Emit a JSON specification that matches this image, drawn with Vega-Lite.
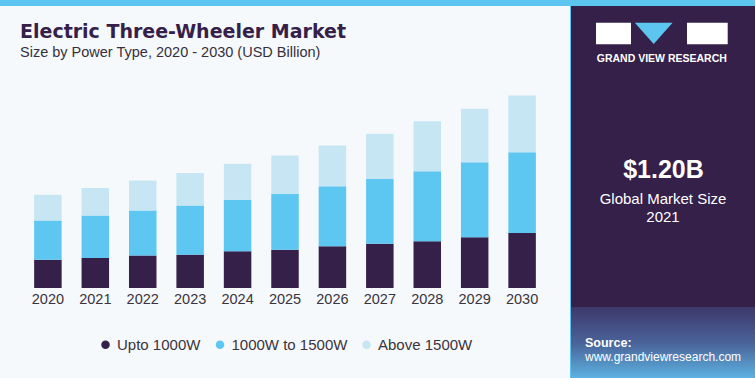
{
  "$schema": "https://vega.github.io/schema/vega-lite/v6.json",
  "background": "#5CC6F1",
  "padding": {"top": 5, "left": 0, "right": 0, "bottom": 0},
  "spacing": 0,
  "config": {"view": {"stroke": null}, "concat": {"spacing": 0}},
  "hconcat": [
    {
      "width": 570,
      "height": 373,
      "view": {"fill": "#F6F9FB", "stroke": null},
      "title": {
        "text": "Electric Three-Wheeler Market",
        "subtitle": "Size by Power Type, 2020 - 2030 (USD Billion)",
        "anchor": "start",
        "frame": "group",
        "orient": "top",
        "offset": -53,
        "dx": 20,
        "font": "DejaVu Sans",
        "fontSize": 19,
        "fontWeight": "bold",
        "color": "#35204A",
        "subtitleFont": "Liberation Sans",
        "subtitleFontSize": 14.5,
        "subtitleColor": "#35303C",
        "subtitlePadding": 4
      },
      "data": {
        "values": [
          {"year": "2020", "type": "Upto 1000W", "rank": 1, "value": 0.34},
          {"year": "2020", "type": "1000W to 1500W", "rank": 2, "value": 0.47},
          {"year": "2020", "type": "Above 1500W", "rank": 3, "value": 0.31},
          {"year": "2021", "type": "Upto 1000W", "rank": 1, "value": 0.36},
          {"year": "2021", "type": "1000W to 1500W", "rank": 2, "value": 0.51},
          {"year": "2021", "type": "Above 1500W", "rank": 3, "value": 0.33},
          {"year": "2022", "type": "Upto 1000W", "rank": 1, "value": 0.39},
          {"year": "2022", "type": "1000W to 1500W", "rank": 2, "value": 0.54},
          {"year": "2022", "type": "Above 1500W", "rank": 3, "value": 0.36},
          {"year": "2023", "type": "Upto 1000W", "rank": 1, "value": 0.40},
          {"year": "2023", "type": "1000W to 1500W", "rank": 2, "value": 0.59},
          {"year": "2023", "type": "Above 1500W", "rank": 3, "value": 0.39},
          {"year": "2024", "type": "Upto 1000W", "rank": 1, "value": 0.44},
          {"year": "2024", "type": "1000W to 1500W", "rank": 2, "value": 0.62},
          {"year": "2024", "type": "Above 1500W", "rank": 3, "value": 0.43},
          {"year": "2025", "type": "Upto 1000W", "rank": 1, "value": 0.46},
          {"year": "2025", "type": "1000W to 1500W", "rank": 2, "value": 0.67},
          {"year": "2025", "type": "Above 1500W", "rank": 3, "value": 0.46},
          {"year": "2026", "type": "Upto 1000W", "rank": 1, "value": 0.50},
          {"year": "2026", "type": "1000W to 1500W", "rank": 2, "value": 0.72},
          {"year": "2026", "type": "Above 1500W", "rank": 3, "value": 0.49},
          {"year": "2027", "type": "Upto 1000W", "rank": 1, "value": 0.53},
          {"year": "2027", "type": "1000W to 1500W", "rank": 2, "value": 0.78},
          {"year": "2027", "type": "Above 1500W", "rank": 3, "value": 0.54},
          {"year": "2028", "type": "Upto 1000W", "rank": 1, "value": 0.56},
          {"year": "2028", "type": "1000W to 1500W", "rank": 2, "value": 0.84},
          {"year": "2028", "type": "Above 1500W", "rank": 3, "value": 0.60},
          {"year": "2029", "type": "Upto 1000W", "rank": 1, "value": 0.61},
          {"year": "2029", "type": "1000W to 1500W", "rank": 2, "value": 0.90},
          {"year": "2029", "type": "Above 1500W", "rank": 3, "value": 0.64},
          {"year": "2030", "type": "Upto 1000W", "rank": 1, "value": 0.66},
          {"year": "2030", "type": "1000W to 1500W", "rank": 2, "value": 0.97},
          {"year": "2030", "type": "Above 1500W", "rank": 3, "value": 0.68}
        ]
      },
      "mark": {"type": "bar"},
      "encoding": {
        "x": {
          "field": "year",
          "type": "ordinal",
          "scale": {"paddingInner": 0.42, "paddingOuter": 0.72},
          "axis": {
            "title": null,
            "domain": false,
            "ticks": false,
            "labelAngle": 0,
            "labelFontSize": 14.5,
            "labelFont": "Liberation Sans",
            "labelColor": "#3A3340",
            "labelPadding": 4,
            "offset": -91
          }
        },
        "y": {
          "field": "value",
          "type": "quantitative",
          "stack": "zero",
          "scale": {"domain": [0, 3.384], "range": [282, 0], "nice": false},
          "axis": null
        },
        "order": {"field": "rank", "type": "quantitative", "sort": "ascending"},
        "color": {
          "field": "type",
          "type": "nominal",
          "scale": {
            "domain": ["Upto 1000W", "1000W to 1500W", "Above 1500W"],
            "range": ["#35204A", "#5DC6F1", "#C6E6F4"]
          },
          "legend": {
            "title": null,
            "orient": "none",
            "legendX": 98,
            "legendY": 331,
            "direction": "horizontal",
            "symbolType": "circle",
            "symbolSize": 72,
            "symbolStrokeWidth": 0,
            "labelFontSize": 15,
            "labelFont": "Liberation Sans",
            "labelColor": "#3A3340",
            "labelOffset": 4,
            "columnPadding": 11.5
          }
        }
      }
    },
    {
      "width": 185,
      "height": 373,
      "view": {"fill": "#35204A", "stroke": null},
      "data": {"values": [{}]},
      "layer": [
        {
          "mark": {"type": "rect", "x": 0, "x2": 185, "y": 301, "y2": 373,
            "color": {"gradient": "linear", "x1": 0, "y1": 0, "x2": 0, "y2": 1,
              "stops": [{"offset": 0, "color": "#3E386B"}, {"offset": 0.5, "color": "#4A6399"}, {"offset": 1, "color": "#5DB4E3"}]}},
          "encoding": {}
        },
        {"mark": {"type": "rect", "x": 25, "x2": 60, "y": 16.7, "y2": 38.3, "color": "#FFFFFF"}, "encoding": {}},
        {"mark": {"type": "rect", "x": 116, "x2": 156.7, "y": 16.7, "y2": 38.3, "color": "#FFFFFF"}, "encoding": {}},
        {"mark": {"type": "point", "shape": "M-1,-0.565L1,-0.565L0,0.565Z", "size": 1421, "x": 82.7, "y": 27.4, "filled": true, "opacity": 1, "color": "#5CC6F1"}, "encoding": {}},
        {"mark": {"type": "rule", "x": 42, "x2": 58, "y": 25.7, "y2": 25.7, "color": "#35204A", "strokeWidth": 1.3}, "encoding": {}},
        {"mark": {"type": "rule", "x": 42, "x2": 42, "y": 25.7, "y2": 32, "color": "#35204A", "strokeWidth": 1.3}, "encoding": {}},
        {"mark": {"type": "rule", "x": 143.3, "x2": 156.7, "y": 25.7, "y2": 25.7, "color": "#35204A", "strokeWidth": 1.3}, "encoding": {}},
        {"mark": {"type": "rule", "x": 143.3, "x2": 156.7, "y": 26.7, "y2": 31.7, "color": "#35204A", "strokeWidth": 1.3}, "encoding": {}},
        {"mark": {"type": "text", "text": "GRAND VIEW RESEARCH", "x": 90.8, "y": 55.7, "align": "center", "baseline": "alphabetic", "font": "Liberation Sans", "fontSize": 10.5, "fontWeight": "bold", "color": "#FFFFFF"}, "encoding": {}},
        {"mark": {"type": "text", "text": "$1.20B", "x": 92.5, "y": 172.3, "align": "center", "baseline": "alphabetic", "font": "Liberation Sans", "fontSize": 25, "fontWeight": "bold", "color": "#FFFFFF"}, "encoding": {}},
        {"mark": {"type": "rule", "x": 18, "x2": 166, "y": 178.7, "y2": 178.7, "color": "#FFFFFF", "strokeWidth": 1}, "encoding": {}},
        {"mark": {"type": "text", "text": "Global Market Size", "x": 92, "y": 198, "align": "center", "baseline": "alphabetic", "font": "Liberation Sans", "fontSize": 15, "color": "#FFFFFF"}, "encoding": {}},
        {"mark": {"type": "text", "text": "2021", "x": 92, "y": 216, "align": "center", "baseline": "alphabetic", "font": "Liberation Sans", "fontSize": 15, "color": "#FFFFFF"}, "encoding": {}},
        {"mark": {"type": "text", "text": "Source:", "x": 14, "y": 341, "align": "left", "baseline": "alphabetic", "font": "Liberation Sans", "fontSize": 12.5, "fontWeight": "bold", "color": "#FFFFFF"}, "encoding": {}},
        {"mark": {"type": "text", "text": "www.grandviewresearch.com", "x": 14, "y": 355, "align": "left", "baseline": "alphabetic", "font": "Liberation Sans", "fontSize": 12, "color": "#FFFFFF"}, "encoding": {}}
      ]
    }
  ]
}
